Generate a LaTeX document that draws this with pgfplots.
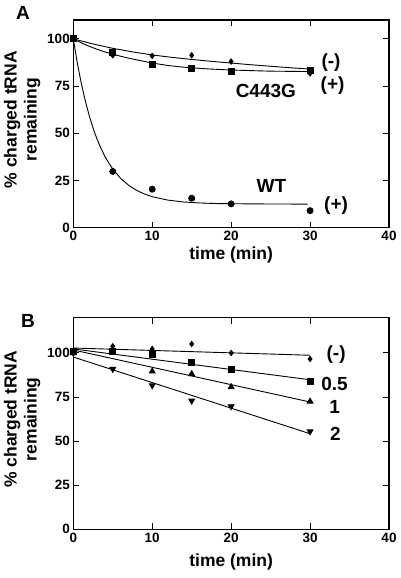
\documentclass[border=0pt]{standalone}
\usepackage{fontspec}
\setmainfont{Liberation Sans}
\usepackage{pgfplots}
\pgfplotsset{compat=1.18}
\pgfplotsset{
  panel/.style={
    scale only axis, width=315.7pt,
    xmin=0, xmax=40, xtick={0,10,20,30,40}, ytick={0,25,50,75,100},
    axis line style={line width=1.3pt},
    tick style={line width=1pt, black},
    major tick length=6pt,
    tick label style={font=\fontsize{13.5}{15}\selectfont\bfseries},
    /pgf/number format/assume math mode=true,
    label style={font=\fontsize{17.5}{20}\selectfont\bfseries},
    ylabel={\% charged tRNA\\remaining},
    ylabel style={align=center, at={(axis description cs:-0.162,0.52)}, anchor=center},
    xlabel={time (min)},
    clip=false,
    every axis plot/.append style={black, line width=0.9pt},
  },
}
\tikzset{ann/.style={font=\fontsize{19}{20}\selectfont\bfseries, anchor=center}}
\begin{document}
\begin{tikzpicture}[x=1pt,y=1pt]
\path[use as bounding box] (0,0) rectangle (400,578);
\node[font=\fontsize{19}{20}\selectfont\bfseries] at (23,565) {A};
\node[font=\fontsize{19}{20}\selectfont\bfseries] at (28,257.5) {B};
% ---------- Panel A ----------
\begin{axis}[panel, at={(73.3pt,350.3pt)}, anchor=south west, height=207.7pt,
  ymin=0, ymax=110,
  xlabel style={at={(axis description cs:0.5,0)}, anchor=center, yshift=-27pt}]
% fitted curves
\addplot[no marks] coordinates {(0,100) (2.5,97.3) (5,95.0) (7.5,93.1) (10,91.5) (12.5,90.2) (15,89.1) (17.5,88.1) (20,87.2) (22.5,86.3) (25,85.5) (27.5,84.7) (30,84.0)};
\addplot[no marks] coordinates {(0,100) (1,97.9) (2,96.1) (3,94.5) (4,93.1) (5,91.9) (6,90.8) (7,89.8) (8,88.9) (10,87.2) (12,85.9) (14,85.0) (17,84.1) (20,83.5) (25,82.9) (30,82.7)};
\addplot[no marks] coordinates {(0,100) (0.5,87.4) (1,76.7) (1.5,67.5) (2,59.6) (2.5,52.8) (3,47.0) (3.5,42.1) (4,37.8) (4.5,34.2) (5,31.1) (6,26.1) (7,22.5) (8,19.8) (9,17.9) (10,16.4) (12,14.6) (14,13.6) (16,13.1) (18,12.8) (20,12.7) (25,12.55) (29.7,12.5)};
% data points
\addplot[only marks, mark=diamond*, mark size=2.6pt] coordinates {(0,100) (5,91.3) (10,91) (15,91.3) (20,88) (30,81.7)};
\addplot[only marks, mark=square*, mark size=3pt] coordinates {(0,100) (5,92.8) (10,86.4) (15,84.1) (20,82.7) (30,83.2)};
\addplot[only marks, mark=*, mark size=3pt] coordinates {(0,100) (5,29.8) (10,20.4) (15,15.6) (20,12.6) (30,9.0)};
\node[ann] at (axis cs:32.65,87.2) {(-)};
\node[ann] at (axis cs:32.85,75.1) {(+)};
\node[ann] at (axis cs:24.4,72.6) {C443G};
\node[ann] at (axis cs:25.1,22.2) {WT};
\node[ann] at (axis cs:33.3,11.6) {(+)};
\end{axis}
% ---------- Panel B ----------
\begin{axis}[panel, at={(73.3pt,48.7pt)}, anchor=south west, height=211.6pt,
  ymin=0, ymax=120,
  xlabel style={at={(axis description cs:0.5,0)}, anchor=center, yshift=-33pt}]
\addplot[no marks] coordinates {(0,102.8) (30,98.7)};
\addplot[no marks] coordinates {(0,102.3) (30,84.8)};
\addplot[no marks] coordinates {(0,101.7) (30,72.2)};
\addplot[no marks] coordinates {(0,97.7) (30,54.2)};
\addplot[only marks, mark=diamond*, mark size=2.6pt] coordinates {(0,100.5) (5,103.8) (10,102.3) (15,105.1) (20,100) (30,96.6)};
\addplot[only marks, mark=square*, mark size=3pt] coordinates {(0,100.6) (5,100.8) (10,99.4) (15,94.7) (20,90.7) (30,83.7)};
\addplot[only marks, mark=triangle*, mark size=3.3pt] coordinates {(0,100) (5,101) (10,89.6) (15,88.1) (20,80.7) (30,72.5)};
\addplot[only marks, mark=triangle*, mark size=3.3pt, mark options={rotate=180}] coordinates {(0,100) (5,90.9) (10,81.6) (15,72.9) (20,69.7) (30,55.5)};
\node[ann] at (axis cs:33.3,98.9) {(-)};
\node[ann] at (axis cs:33.1,82.6) {0.5};
\node[ann] at (axis cs:33.1,69.5) {1};
\node[ann] at (axis cs:33.2,53.9) {2};
\end{axis}
\end{tikzpicture}
\end{document}
